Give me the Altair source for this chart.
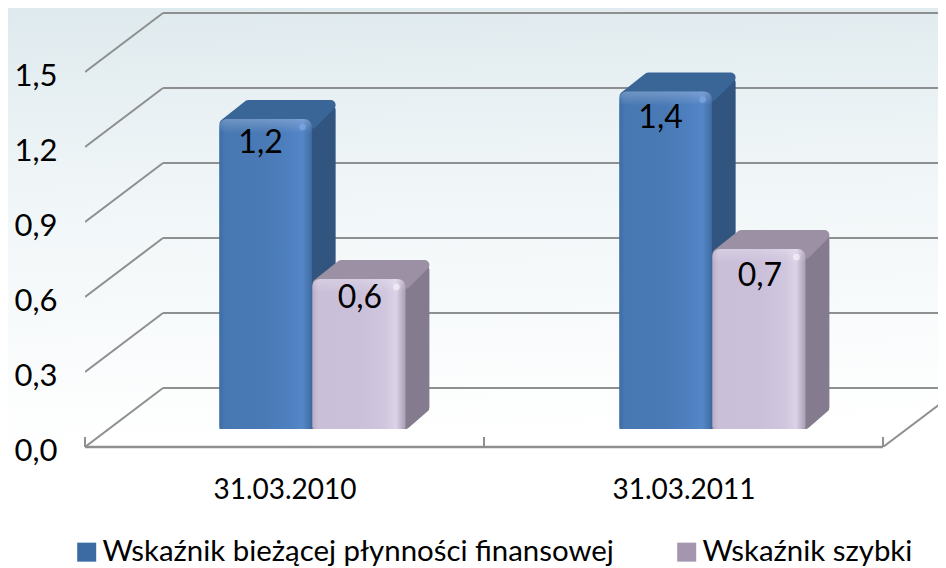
import altair as alt
import pandas as pd

categories = ["31.03.2010", "31.03.2011"]
series = ["Wskaźnik bieżącej płynności finansowej", "Wskaźnik szybki"]
current_ratio = [1.24, 1.35]
quick_ratio = [0.60, 0.72]
y_ticks = [0.0, 0.3, 0.6, 0.9, 1.2, 1.5]

# scale: 399 px per category, 250 px per unit of value
PX_X, PX_Y = 399.0, 250.0
PLOT_W, PLOT_H = 853, 439
X_MAX, Y_MAX = PLOT_W / PX_X, PLOT_H / PX_Y
X_MIN, Y_MIN = -77 / PX_X, -121 / PX_Y
WALL_DX, WALL_DY = 78 / PX_X, 59 / PX_Y
FLOOR = 18 / PX_Y
BAR_DX, BAR_DY = 24 / PX_X, 19 / PX_Y
R_X, R_Y = 5 / PX_X, 5 / PX_Y
FONT = "Lato"
GRID = "#8e8f8f"
# data-label nudges in px, per (category, series): (dx, drop below the bar top)
LABEL_NUDGE = {(0, 0): (-5, 24), (0, 1): (1, 19), (1, 0): (-5, 26), (1, 1): (1, 27)}

xs = alt.Scale(domain=[0, X_MAX], nice=False, zero=False)
ys = alt.Scale(domain=[0, Y_MAX], nice=False, zero=False)
x_axis = alt.Axis(
    values=[0.5, 1.5], title=None, domain=False, ticks=False, grid=False, zindex=1,
    labelExpr=f"datum.value < 1 ? '{categories[0]}' : '{categories[1]}'",
    labelFont=FONT, labelFontSize=28, labelColor="#000000", labelPadding=29, labelFlush=False,
)
y_axis = alt.Axis(
    values=y_ticks, title=None, domain=False, ticks=False, grid=False, zindex=1,
    format=".1f", labelExpr="replace(datum.label, '.', ',')",
    labelFont=FONT, labelFontSize=31, labelColor="#000000", labelPadding=28, labelOffset=4,
)
X = lambda f: alt.X(f, type="quantitative", scale=xs, axis=x_axis, title=None)
Y = lambda f: alt.Y(f, type="quantitative", scale=ys, axis=y_axis, title=None)

# ---------- bars geometry derived from the values
rows = []
for i, date in enumerate(categories):
    c = i * 400 / 399
    for s, vals, l, r in [(0, current_ratio, 0.337, 0.568), (1, quick_ratio, 0.570, 0.803)]:
        dx, drop = LABEL_NUDGE[(i, s)]
        value = vals[i]
        rows.append(dict(date=date, series=series[s], value=value, l=c + l, r=c + r, s=s,
                         mid=c + (l + r) / 2 + dx / PX_X, ty=value + FLOOR - drop / PX_Y))
bars = pd.DataFrame(rows)
bars["base"] = FLOOR
bars["top"] = bars["value"] + FLOOR
bars["label"] = bars["value"].map(lambda v: f"{v:.1f}".replace(".", ","))
bars["spot_x"] = bars["r"] - 9 / PX_X
bars["spot_y"] = bars["top"] - 8 / PX_Y

side_rows, top_rows = [], []
for b in bars.itertuples():
    side_rows += [
        dict(id=f"{b.date}{b.s}", s=b.s, x=b.r, y=b.top - R_Y, y2=b.base + R_Y),
        dict(id=f"{b.date}{b.s}", s=b.s, x=b.r + BAR_DX - R_X, y=b.top + BAR_DY - 2 * R_Y, y2=b.base + BAR_DY + R_Y * 0.5),
    ]
    top_rows += [
        dict(id=f"{b.date}{b.s}", s=b.s, y=b.top - R_Y, x=b.l + R_X, x2=b.r),
        dict(id=f"{b.date}{b.s}", s=b.s, y=b.top + BAR_DY - R_Y, x=b.l + BAR_DX + R_X, x2=b.r + BAR_DX - R_X),
    ]
sides, tops = pd.DataFrame(side_rows), pd.DataFrame(top_rows)

# ---------- background
bg = alt.Chart(pd.DataFrame([dict(x=X_MIN, x2=X_MAX, y=Y_MIN, y2=Y_MAX)])).mark_rect(
    fill=alt.Gradient(
        gradient="linear", x1=0.2, y1=0, x2=0.25, y2=1,
        stops=[
            alt.GradientStop(color="#dfeaee", offset=0),
            alt.GradientStop(color="#eff5f7", offset=0.3),
            alt.GradientStop(color="#ffffff", offset=0.78),
            alt.GradientStop(color="#ffffff", offset=1),
        ],
    )
).encode(x=X("x"), x2="x2:Q", y=Y("y"), y2="y2:Q")

# ---------- wall and floor lines
back = pd.DataFrame([dict(v=v, a=WALL_DX, b=2 + WALL_DX, y=v + WALL_DY) for v in y_ticks])
back_lines = alt.Chart(back).mark_rule(color=GRID, strokeWidth=2, clip=True).encode(x=X("a"), x2="b:Q", y=Y("y"))

ob = []
for v in y_ticks:
    ob += [dict(id=v, x=0, y=v), dict(id=v, x=WALL_DX, y=v + WALL_DY)]
ob += [dict(id=9, x=2, y=0), dict(id=9, x=2 + WALL_DX, y=WALL_DY)]
oblique = alt.Chart(pd.DataFrame(ob)).mark_line(color=GRID, strokeWidth=2, clip=True).encode(
    x=X("x"), y=Y("y"), detail="id:N")

floor = alt.Chart(pd.DataFrame([dict(a=0, b=2, y=0)])).mark_rule(color=GRID, strokeWidth=2.5).encode(
    x=X("a"), x2="b:Q", y=Y("y"))
ticks = alt.Chart(pd.DataFrame(dict(x=[0, 1, 2], y=[0, 0, 0], y2=[0.04, 0.04, 0.04]))).mark_rule(
    color=GRID, strokeWidth=2).encode(x=X("x"), y=Y("y"), y2="y2:Q")

# ---------- 3-D bars
pal = [
    dict(side="#31557f", top="#3a6597", spot="#7da6e4",
         front=["#3d6ca6", "#4878b2", "#4a7ab6", "#4f80c0", "#5686c8", "#3f6da4"]),
    dict(side="#857b8e", top="#9b90a4", spot="#f4effa",
         front=["#b8adc6", "#cabfd9", "#cbc0da", "#d0c6de", "#dcd3e8", "#a89db3"]),
]


def bar_layers(s):
    d = bars[bars.s == s]
    p = pal[s]
    side = alt.Chart(sides[sides.s == s]).mark_area(
        color=p["side"], stroke=p["side"], strokeWidth=10, strokeJoin="round", orient="vertical"
    ).encode(x=X("x"), y=Y("y"), y2="y2:Q", detail="id:N")
    top = alt.Chart(tops[tops.s == s]).mark_area(
        color=p["top"], stroke=p["top"], strokeWidth=10, strokeJoin="round", orient="horizontal"
    ).encode(y=Y("y"), x=X("x"), x2="x2:Q", detail="id:N")
    legend_base = alt.Chart(d).mark_rect(cornerRadiusTopLeft=8, cornerRadiusTopRight=8).encode(
        x=X("l"), x2="r:Q", y=Y("top"), y2="base:Q",
        color=alt.Color("series:N", scale=alt.Scale(domain=series, range=["#3c6aa2", "#a396ae"]), title=None,
                        legend=alt.Legend(
                            orient="none", legendX=-13, legendY=529, columns=2, columnPadding=58,
                            symbolType="square", symbolSize=361, symbolStrokeWidth=0, symbolOpacity=1,
                            labelFont=FONT, labelFontSize=29.4, labelColor="#000000", labelOffset=1,
                            labelLimit=600, title=None, padding=0,
                        )),
    )
    stops = p["front"]
    offs = [0, 0.06, 0.5, 0.78, 0.9, 1]
    front = alt.Chart(d).mark_rect(
        cornerRadiusTopLeft=8, cornerRadiusTopRight=8, cornerRadiusBottomLeft=3, cornerRadiusBottomRight=3,
        fill=alt.Gradient(gradient="linear", x1=0, y1=0, x2=1, y2=0,
                          stops=[alt.GradientStop(color=c, offset=o) for c, o in zip(stops, offs)]),
    ).encode(x=X("l"), x2="r:Q", y=Y("top"), y2="base:Q")
    d2 = d.assign(bevel=d["top"] - 14 / PX_Y)
    bevel = alt.Chart(d2).mark_rect(
        cornerRadiusTopLeft=8, cornerRadiusTopRight=8,
        fill=alt.Gradient(gradient="linear", x1=0, y1=0, x2=0, y2=1,
                          stops=[alt.GradientStop(color="rgba(255,255,255,0.22)", offset=0),
                                 alt.GradientStop(color="rgba(255,255,255,0)", offset=1)]),
    ).encode(x=X("l"), x2="r:Q", y=Y("top"), y2="bevel:Q")
    spot = alt.Chart(d).mark_circle(color=p["spot"], size=45, opacity=0.75).encode(
        x=X("spot_x"), y=Y("spot_y"))
    return [side, top, legend_base, front, bevel, spot]


labels = alt.Chart(bars).mark_text(
    font=FONT, fontSize=32, color="#000000", baseline="middle", align="center"
).encode(x=X("mid"), y=Y("ty"), text="label:N")

chart = alt.layer(
    bg, back_lines, oblique, floor, ticks, *bar_layers(0), *bar_layers(1), labels
).properties(
    width=PLOT_W, height=PLOT_H,
    padding={"left": 77, "top": 0, "right": 0, "bottom": 121},
    autosize=alt.AutoSizeParams(type="none"),
).configure_view(stroke=None).configure(background="#ffffff")

chart.save("out.html", embed_options={"renderer": "svg", "actions": False})
